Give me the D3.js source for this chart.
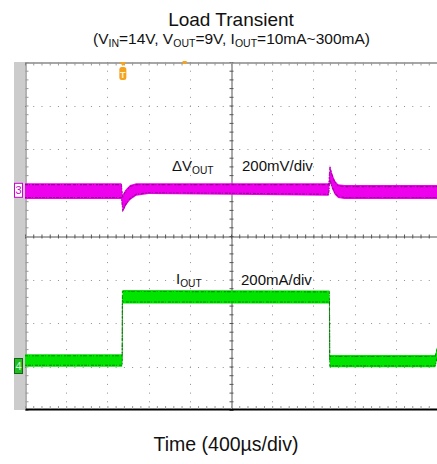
<!DOCTYPE html>
<html><head><meta charset="utf-8">
<script src="https://cdn.jsdelivr.net/npm/d3@7"></script>
<style>body{margin:0;background:#fff}svg{display:block;font-family:"Liberation Sans",Arial,sans-serif}</style>
</head><body><svg id="c" width="437" height="464"></svg>
<script>
// ---- data ----
const timePerDiv = 400;           // µs/div
const ch3PerDiv = 200;            // mV/div
const ch4PerDiv = 200;            // mA/div
const ch3OffsetDiv = 1.05;
const ch4OffsetDiv = -3.0;
const triggerTime = 950;          // µs
const posMarkerTime = 1550;       // µs

// ΔVOUT envelope (mV)
const ch3Time  = [0, 936, 940, 948, 960, 980, 1020, 1080, 1200, 2000, 2948, 2952, 2960, 2980, 3008, 3040, 3100, 4000];
const ch3Upper = [33, 33, 20, -25, -10, 5, 25, 33, 33, 33, 33, 60, 116, 80, 45, 28, 24, 24];
const ch3Lower = [-40, -40, -60, -100, -90, -70, -45, -25, -17, -20, -25, -10, 40, 10, -20, -35, -40, -40];

// IOUT envelope (mA)
const ch4Time  = [0, 944, 946, 2956, 2958, 3982, 4000];
const ch4Upper = [56, 56, 352, 350, 53, 53, 88];
const ch4Lower = [-1, -1, 290, 290, -4, -4, 30];

const titleText = "Load Transient";
const xLabel = "Time (400µs/div)";
const ch3Scale = "200mV/div";
const ch4Scale = "200mA/div";

// ---- layout ----
const L = 25, R = 437, T = 62, B = 410;
const svg = d3.select("#c");

const x = d3.scaleLinear().domain([0, 10 * timePerDiv]).range([L, R]);
const gy = d3.scaleLinear().domain([-4, 4]).range([B, T]);
const y3 = d3.scaleLinear().domain([(-4 - ch3OffsetDiv) * ch3PerDiv, (4 - ch3OffsetDiv) * ch3PerDiv]).range([B, T]);
const y4 = d3.scaleLinear().domain([(-4 - ch4OffsetDiv) * ch4PerDiv, (4 - ch4OffsetDiv) * ch4PerDiv]).range([B, T]);

// gray left bar
svg.append("rect").attr("x", 14).attr("y", T).attr("width", L - 14).attr("height", B - T).attr("fill", "#cccccc");

// grid dots
const g = svg.append("g");
const hPeriod = (x(timePerDiv) - x(0)) / 5;
const vPeriod = (gy(0) - gy(1)) / 5;
[-3, -2, -1, 1, 2, 3].forEach(d => {
  g.append("line").attr("x1", L).attr("x2", R).attr("y1", Math.round(gy(d)) + 0.5).attr("y2", Math.round(gy(d)) + 0.5)
    .attr("stroke", "#8f8f8f").attr("stroke-width", 1).attr("stroke-dasharray", `1 ${hPeriod - 1}`);
});
d3.range(1, 10).filter(i => i !== 5).forEach(i => {
  const xx = Math.round(x(i * timePerDiv)) + 0.5;
  g.append("line").attr("x1", xx).attr("x2", xx).attr("y1", T).attr("y2", B)
    .attr("stroke", "#8f8f8f").attr("stroke-width", 1).attr("stroke-dasharray", `1 ${vPeriod - 1}`);
});

// minor tick values
const xMinor = d3.range(0, 50).map(k => k * timePerDiv / 5);
const yMinor = d3.range(-20, 21).map(k => k / 5);

// center axes with ticks
const cy = Math.round(gy(0)) + 0.5;
const cx = Math.round(x(5 * timePerDiv)) + 0.5;
svg.append("g").attr("transform", `translate(0,${cy})`)
  .call(d3.axisBottom(x).tickValues(xMinor).tickSizeInner(2).tickSizeOuter(0).tickFormat(""))
  .call(a => a.select(".domain").attr("stroke", "#555"))
  .call(a => a.selectAll(".tick line").attr("y1", -2).attr("stroke", "#555"));
svg.append("g").attr("transform", `translate(${cx},0)`)
  .call(d3.axisRight(gy).tickValues(yMinor).tickSizeInner(2).tickSizeOuter(0).tickFormat(""))
  .call(a => a.select(".domain").attr("stroke", "#555"))
  .call(a => a.selectAll(".tick line").attr("x1", -2).attr("stroke", "#555"));

// borders
svg.append("g").attr("transform", `translate(0,${T + 0.5})`)
  .call(d3.axisBottom(x).tickValues(xMinor).tickSizeInner(3).tickSizeOuter(0).tickFormat(""))
  .call(a => a.select(".domain").attr("stroke", "#888").attr("stroke-width", 1.5))
  .call(a => a.selectAll(".tick line").attr("stroke", "#999"));
svg.append("g").attr("transform", `translate(${L + 0.5},0)`)
  .call(d3.axisRight(gy).tickValues(yMinor).tickSizeInner(3).tickSizeOuter(0).tickFormat(""))
  .call(a => a.select(".domain").attr("stroke", "#666"))
  .call(a => a.selectAll(".tick line").attr("stroke", "#999"));
svg.append("g").attr("transform", `translate(0,${B - 1})`)
  .call(d3.axisTop(x).tickValues(xMinor).tickSizeInner(3).tickSizeOuter(0).tickFormat(""))
  .call(a => a.select(".domain").attr("stroke", "#000").attr("stroke-width", 2))
  .call(a => a.selectAll(".tick line").attr("stroke", "#999"));

// traces
function drawBand(time, up, lo, ys, fill, dark, edge) {
  const pts = time.map((t, i) => ({ t, u: up[i], l: lo[i] }));
  const area = d3.area().x(d => x(d.t)).y0(d => ys(d.l)).y1(d => ys(d.u));
  const gg = svg.append("g");
  if (edge) {
    // thin edge line, visible only where the band jumps
    gg.append("path").datum(pts).attr("d", d3.line().x(d => x(d.t)).y(d => ys((d.u + d.l) / 2)))
      .attr("fill", "none").attr("stroke", edge).attr("stroke-width", 1);
  }
  gg.append("path").datum(pts).attr("d", area).attr("fill", fill);
  gg.append("path").datum(pts).attr("d", d3.line().x(d => x(d.t)).y(d => ys(d.u) + 1.5))
    .attr("fill", "none").attr("stroke", dark).attr("stroke-width", 1.1).attr("stroke-opacity", 0.7)
    .attr("stroke-dasharray", "3 1 1 2 2 1 4 2");
  gg.append("path").datum(pts).attr("d", d3.line().x(d => x(d.t)).y(d => ys(d.l) - 1.5))
    .attr("fill", "none").attr("stroke", dark).attr("stroke-width", 1.1).attr("stroke-opacity", 0.7)
    .attr("stroke-dasharray", "2 1 3 1 1 2 3 1");
}
drawBand(ch3Time, ch3Upper, ch3Lower, y3, "#ee00ee", "#7a007a", null);
drawBand(ch4Time, ch4Upper, ch4Lower, y4, "#00e400", "#0a6a0a", "#44dd44");

// channel markers
const m3 = y3(0);
svg.append("rect").attr("x", 14.5).attr("y", m3 - 7).attr("width", 8).attr("height", 14)
  .attr("fill", "#fff").attr("stroke", "#d000d0").attr("stroke-width", 1);
svg.append("text").attr("x", 18.5).attr("y", m3 + 4).attr("text-anchor", "middle")
  .attr("font-size", 11).attr("fill", "#d000d0").text("3");
const m4 = y4(0);
svg.append("rect").attr("x", 14.5).attr("y", m4 - 8).attr("width", 8).attr("height", 15)
  .attr("fill", "#22bb22").attr("stroke", "#116611").attr("stroke-width", 1);
svg.append("text").attr("x", 18.5).attr("y", m4 + 3.5).attr("text-anchor", "middle")
  .attr("font-size", 11).attr("fill", "#ccffcc").text("4");

// trigger marker
const tx = x(triggerTime);
svg.append("path").attr("d", `M${tx - 3.5},${T} L${tx + 3.5},${T} L${tx},${T + 4} Z`).attr("fill", "#f5a21c");
svg.append("rect").attr("x", tx - 3.5).attr("y", T + 5).attr("width", 7).attr("height", 13).attr("rx", 2.5)
  .attr("fill", "#f5a21c");
svg.append("text").attr("x", tx).attr("y", T + 15.5).attr("text-anchor", "middle")
  .attr("font-size", 9).attr("font-weight", "bold").attr("fill", "#fff3d8").text("T");
svg.append("rect").attr("x", x(posMarkerTime) - 2).attr("y", T - 1).attr("width", 4).attr("height", 3)
  .attr("fill", "#f5a21c");

// labels
function sublabel(xp, yp, main, sub, size) {
  const t = svg.append("text").attr("x", xp).attr("y", yp).attr("font-size", size).attr("fill", "#111");
  t.append("tspan").text(main);
  t.append("tspan").attr("font-size", size * 0.68).attr("dy", 3).text(sub);
}
sublabel(172, 171, "ΔV", "OUT", 15);
svg.append("text").attr("x", 242).attr("y", 171).attr("font-size", 15).attr("fill", "#111").text(ch3Scale);
sublabel(176, 284, "I", "OUT", 15);
svg.append("text").attr("x", 241).attr("y", 285).attr("font-size", 15).attr("fill", "#111").text(ch4Scale);

// title
svg.append("text").attr("x", 231).attr("y", 26).attr("text-anchor", "middle").attr("font-size", 19)
  .attr("fill", "#111").text(titleText);
const st = svg.append("text").attr("x", 231.5).attr("y", 44).attr("text-anchor", "middle")
  .attr("font-size", 15.5).attr("fill", "#111");
const parts = [["(V", 0], ["IN", 1], ["=14V, V", 0], ["OUT", 1], ["=9V, I", 0], ["OUT", 1], ["=10mA~300mA)", 0]];
let prevSub = 0;
parts.forEach(([s, sub]) => {
  const sp = st.append("tspan").text(s);
  if (sub) sp.attr("font-size", 10.5);
  const dy = (sub ? 3 : 0) - (prevSub ? 3 : 0);
  if (dy) sp.attr("dy", dy);
  prevSub = sub;
});

svg.append("text").attr("x", 226).attr("y", 451).attr("text-anchor", "middle").attr("font-size", 19.5)
  .attr("fill", "#111").text(xLabel);
</script></body></html>
